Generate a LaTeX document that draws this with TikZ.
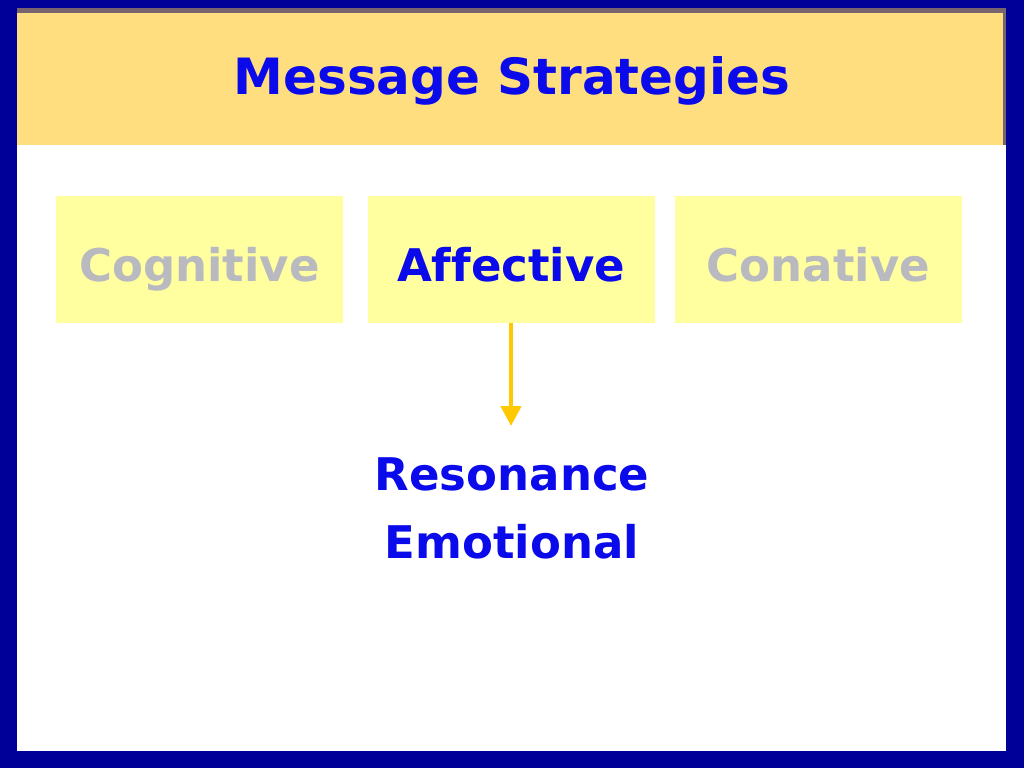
\documentclass[tikz,border=0pt]{standalone}
\usepackage{fontspec}
\setmainfont{DejaVu Sans}[Ligatures=NoCommon]
\usetikzlibrary{arrows.meta}
\definecolor{frameblue}{RGB}{0,0,153}
\definecolor{headyellow}{RGB}{255,222,128}
\definecolor{headline}{RGB}{120,100,110}
\definecolor{boxyellow}{RGB}{255,255,160}
\definecolor{greytext}{RGB}{185,185,192}
\definecolor{textblue}{RGB}{10,10,235}
\definecolor{arrowgold}{RGB}{255,200,0}
\tikzset{
  x=1pt,y=-1pt,
  catbox/.style={fill=boxyellow, draw=none, minimum width=287pt, minimum height=127pt, inner sep=0pt, text height=44pt, text depth=0pt, font=\bfseries\fontsize{45}{54}\selectfont},
  lbl/.style={font=\bfseries\fontsize{45}{68}\selectfont, text=textblue, align=center},
}
\begin{document}
\begin{tikzpicture}
\useasboundingbox (0,0) rectangle (1024,768);
\fill[frameblue] (0,0) rectangle (1024,768);
\fill[white] (17,8) rectangle (1006,751);
\fill[headline] (17,8) rectangle (1006,13);
\fill[headline] (1003,8) rectangle (1006,145);
\fill[headyellow] (17,13) rectangle (1003,145);
\node[font=\bfseries\fontsize{50}{60}\selectfont, text=textblue] (title) at (512,81) {Message Strategies};
\node[catbox, text=greytext] (cog) at (199.5,259.5) {Cognitive};
\node[catbox, text=textblue] (aff) at (511,259.5) {Affective};
\node[catbox, text=greytext] (con) at (818.5,259.5) {Conative};
\node[lbl] (res) at (512,508) {Resonance\\Emotional};
\coordinate (tip) at (511,426);
\draw[arrowgold, line width=4.5pt, -{Triangle[width=20pt,length=20pt]}] (aff.south) -- (tip);
\end{tikzpicture}
\end{document}
